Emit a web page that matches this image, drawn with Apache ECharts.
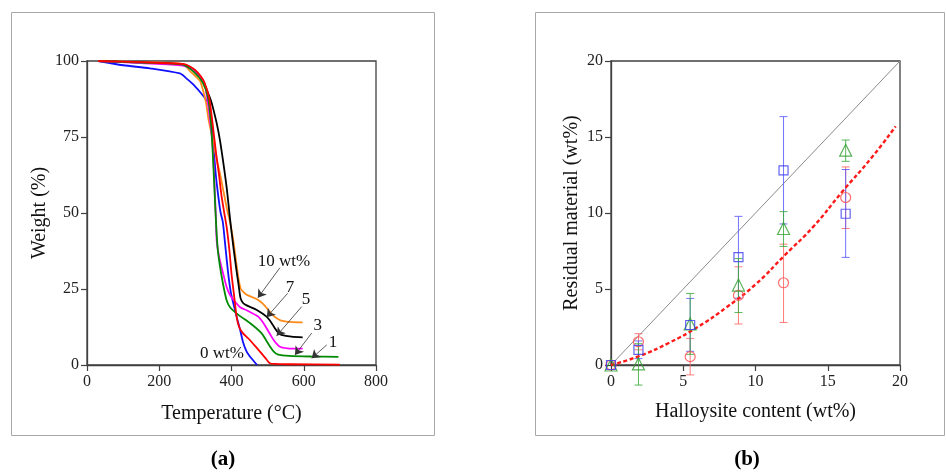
<!DOCTYPE html>
<html><head><meta charset="utf-8">
<script src="https://cdn.jsdelivr.net/npm/echarts@6/dist/echarts.min.js"></script>
<style>html,body{margin:0;padding:0;background:#fff}#c{width:946px;height:472px}</style>
</head><body><div id="c"></div>
<script>
// ---------- Panel (a): TGA curves, [temperature (°C), weight (%)] ----------
const tga0 = [[31,100],[100,98.6],[174,97.6],[257,95.9],[275,94.3],[294,92.3],[322,88.5],[336,86],[343,82],[350,72],[357,62],[364,55],[370,50],[376,47],[383,39],[391,30],[398,24],[405,20.3],[415,15.5],[424,11.5],[432,7.5],[442,4.4],[455,2.2],[471,0]];
const tga1 = [[31,100],[150,99.6],[270,99],[285,98.2],[300,97],[315,95],[325,93],[338,88],[345,82],[352,75],[358,69],[365,63],[372,56],[380,50],[387,45],[394,38],[400,30],[407,23],[414,16],[421,12.5],[432,10.4],[446,8.8],[465,6.3],[483,3.8],[497,1.8],[506,0.6],[520,0.35],[560,0.25],[700,0.1]];
const tga3 = [[31,100],[150,99.5],[265,98.8],[295,96.5],[320,93],[335,88],[343,80],[348,70],[352,60],[355,52],[358,45],[362,38],[368,32.5],[376,27],[386,21.5],[396,19],[419,16.5],[451,13.8],[483,10.5],[495,8.3],[506,6.2],[517,4.4],[529,3.4],[560,3.0],[620,2.8],[696,2.7]];
const tga5 = [[31,100],[150,99.3],[265,98.5],[290,97.3],[315,94.5],[326,92.3],[336,85],[343,78],[349,70],[352,62],[354.5,55],[357,48],[359,41],[365,36],[377,30],[387,25.5],[396,23],[405,21.5],[424,19],[442,18],[474,15.9],[490,13.5],[505,10.5],[518,8],[534,6],[555,5.5],[597,5.4]];
const tga7 = [[31,100],[150,99.5],[265,98.8],[295,97],[320,93.5],[331,90.6],[343,87],[350,84],[360,79],[368,74],[378,66],[387,58],[396,48],[405,39],[414,31],[420,26],[425,22],[432,20.4],[442,19.6],[470,18.1],[497,15.9],[510,14],[520,12.1],[530,10.5],[538,9.9],[566,9.3],[597,9.1]];
const tga10 = [[31,100],[150,99.6],[265,99],[285,96.7],[300,95],[313,93.4],[322,90],[330,86],[336,81],[345,76],[352,72],[360,67],[368,63],[378,57],[388,51],[396,47],[405,41],[414,33],[420,28],[426,25],[435,23.8],[442,23.1],[458,22.3],[474,21.4],[488,20],[502,18.1],[515,16.3],[525,15.4],[540,14.5],[552,14.3],[597,14]];
const tgaXTicks = [0,200,400,600,800];
const tgaYTicks = [0,25,50,75,100];
// annotation labels: [text, label x, label y, arrow start x, y, arrow tip x, y] in data units
const tgaNotes = [
  ['10 wt%', 545, 34.2, 534, 32, 473, 22.1],
  ['7', 562, 25.4, 555.5, 23.6, 497.4, 15.7],
  ['5', 606, 21.5, 594.3, 19.2, 525, 9.6],
  ['3', 639, 12.9, 622, 10.5, 575.7, 3.3],
  ['1', 681, 7.3, 663.5, 6.6, 622, 2.2],
  ['0 wt%', 373.7, 3.7, null, null, null, null]
];

// ---------- Panel (b): residual material vs halloysite content ----------
const hntX = [0, 1.9, 5.48, 8.82, 11.94, 16.24];
const circY = [0, 1.53, 0.55, 4.58, 5.41, 11.02];
const circLo = [0, 1.0, -0.65, 2.70, 2.80, 8.98];
const circHi = [0, 2.06, 1.75, 6.46, 7.95, 13.03];
const sqY = [0, 0.99, 2.63, 7.10, 12.81, 9.95];
const sqLo = [0, 0.42, 0.90, 4.40, 9.28, 7.08];
const sqHi = [0, 1.58, 4.38, 9.78, 16.34, 12.86];
const triY = [0, 0.07, 2.70, 5.26, 8.98, 14.13];
const triLo = [0, -1.32, 0.70, 3.45, 7.80, 13.40];
const triHi = [0, 1.40, 4.71, 7.00, 10.09, 14.80];
const identityX = [0, 20];
const identityY = [0, 20];
const fitX = [0, 2, 4, 6, 8, 10, 12, 14, 16, 18, 19.7];
const fitY = [0, 0.6, 1.45, 2.5, 3.8, 5.3, 7.2, 9.1, 11.4, 13.6, 15.7];
const resTicks = [0,5,10,15,20];

const serif = '"Liberation Serif","Times New Roman",serif';
const axisColor = '#404040';

function valueAxis(gi, min, max, interval, name, nameGap, isY) {
  return {
    type:'value', gridIndex:gi, min:min, max:max, interval:interval,
    name:name, nameLocation:'middle', nameGap:nameGap,
    nameTextStyle:{fontFamily:serif, fontSize:20, color:'#111'},
    axisLine:{show:true, onZero:false, lineStyle:{color:axisColor, width:1.3}},
    axisTick:{show:true, inside:false, length:6, lineStyle:{color:axisColor, width:1.2}},
    axisLabel:{fontFamily:serif, fontSize:16, color:'#222', margin: isY ? 8 : 9},
    splitLine:{show:false}
  };
}

function errBars(color, xs, lo, hi) {
  return {
    type:'custom', xAxisIndex:1, yAxisIndex:1, silent:true, z:2,
    data: xs.map((x,i)=>[x, lo[i], hi[i]]),
    encode:{x:0, y:[1,2]},
    renderItem:(params, api) => {
      const x = api.value(0), l = api.value(1), h = api.value(2);
      if (l === h) return null;
      const a = api.coord([x, l]), b = api.coord([x, h]);
      const w = 4, st = {stroke:color, lineWidth:1, fill:null};
      return {type:'group', children:[
        {type:'line', shape:{x1:a[0], y1:a[1], x2:b[0], y2:b[1]}, style:st},
        {type:'line', shape:{x1:a[0]-w, y1:a[1], x2:a[0]+w, y2:a[1]}, style:st},
        {type:'line', shape:{x1:b[0]-w, y1:b[1], x2:b[0]+w, y2:b[1]}, style:st}
      ]};
    }
  };
}

function tgaLine(data, color, extra) {
  return Object.assign({
    type:'line', xAxisIndex:0, yAxisIndex:0, data:data, showSymbol:false, symbol:'none',
    smooth:0.25, lineStyle:{color:color, width:1.8}, itemStyle:{color:color}, silent:true, z:3
  }, extra || {});
}

const arrowLines = tgaNotes.filter(n => n[3] !== null).map(n => [
  {coord:[n[3], n[4]]}, {coord:[n[5], n[6]]}
]);

const chart = echarts.init(document.getElementById('c'), null, {renderer:'canvas'});
chart.setOption({
  animation:false,
  backgroundColor:'#fff',
  grid:[
    {left:87, top:61, width:289, height:304, show:true, borderColor:axisColor, borderWidth:1.3, backgroundColor:'transparent'},
    {left:611, top:61, width:289, height:304, show:true, borderColor:axisColor, borderWidth:1.3, backgroundColor:'transparent'}
  ],
  xAxis:[
    valueAxis(0, tgaXTicks[0], tgaXTicks[tgaXTicks.length-1], tgaXTicks[1]-tgaXTicks[0], 'Temperature (°C)', 39, false),
    valueAxis(1, resTicks[0], resTicks[resTicks.length-1], resTicks[1]-resTicks[0], 'Halloysite content (wt%)', 37, false)
  ],
  yAxis:[
    valueAxis(0, tgaYTicks[0], tgaYTicks[tgaYTicks.length-1], tgaYTicks[1]-tgaYTicks[0], 'Weight (%)', 37, true),
    valueAxis(1, resTicks[0], resTicks[resTicks.length-1], resTicks[1]-resTicks[0], 'Residual material (wt%)', 29, true)
  ],
  series:[
    tgaLine(tga0, '#1010ff', {markLine:{
      silent:true, symbol:['none','arrow'], symbolSize:8, label:{show:false},
      lineStyle:{color:'#333', width:0.8, type:'solid'}, data:arrowLines
    }}),
    tgaLine(tga10, '#ff8c1a'),
    tgaLine(tga7, '#000000'),
    tgaLine(tga5, '#ff00ff'),
    tgaLine(tga3, '#008a00'),
    tgaLine(tga1, '#ff0000'),
    // panel (b)
    {type:'line', xAxisIndex:1, yAxisIndex:1, data:identityX.map((x,i)=>[x, identityY[i]]),
     showSymbol:false, symbol:'none', lineStyle:{color:'#8a8a8a', width:1}, silent:true, z:1},
    {type:'line', xAxisIndex:1, yAxisIndex:1, data:fitX.map((x,i)=>[x, fitY[i]]),
     showSymbol:false, symbol:'none', smooth:true, lineStyle:{color:'#ff1a1a', width:2.4, type:[4,2.5]}, silent:true, z:3},
    errBars('rgba(255,100,100,0.85)', hntX, circLo, circHi),
    errBars('rgba(90,90,255,0.85)', hntX, sqLo, sqHi),
    errBars('rgba(60,170,60,0.85)', hntX, triLo, triHi),
    {type:'scatter', xAxisIndex:1, yAxisIndex:1, data:hntX.map((x,i)=>[x, circY[i]]), symbol:'circle', symbolSize:10,
     itemStyle:{color:'rgba(255,255,255,0)', borderColor:'#ff4a4a', borderWidth:1.2}, silent:true, z:4},
    {type:'scatter', xAxisIndex:1, yAxisIndex:1, data:hntX.map((x,i)=>[x, triY[i]]), symbol:'triangle', symbolSize:12,
     itemStyle:{color:'rgba(255,255,255,0)', borderColor:'#2f9f2f', borderWidth:1.2}, silent:true, z:4},
    {type:'scatter', xAxisIndex:1, yAxisIndex:1, data:hntX.map((x,i)=>[x, sqY[i]]), symbol:'rect', symbolSize:9,
     itemStyle:{color:'rgba(255,255,255,0)', borderColor:'#3b3bf0', borderWidth:1.2}, silent:true, z:4}
  ]
});

const noteGraphics = tgaNotes.map(n => {
  const p = chart.convertToPixel({gridIndex:0}, [n[1], n[2]]);
  return {type:'text', x:p[0], y:p[1], silent:true, z:10,
    style:{text:n[0], fontFamily:serif, fontSize:17, fill:'#111', align:'center', verticalAlign:'middle'}};
});

chart.setOption({
  graphic:[
    {type:'rect', shape:{x:11.5, y:12.5, width:423, height:423}, style:{fill:'none', stroke:'#a8a8a8', lineWidth:1}, silent:true, z:-1},
    {type:'rect', shape:{x:535.5, y:12.5, width:409, height:423}, style:{fill:'none', stroke:'#a8a8a8', lineWidth:1}, silent:true, z:-1},
    {type:'text', x:223, y:460, style:{text:'(a)', fontFamily:serif, fontWeight:'bold', fontSize:21, fill:'#000', align:'center', verticalAlign:'middle'}, silent:true},
    {type:'text', x:747, y:460, style:{text:'(b)', fontFamily:serif, fontWeight:'bold', fontSize:21, fill:'#000', align:'center', verticalAlign:'middle'}, silent:true}
  ].concat(noteGraphics)
});
</script>
</body></html>
